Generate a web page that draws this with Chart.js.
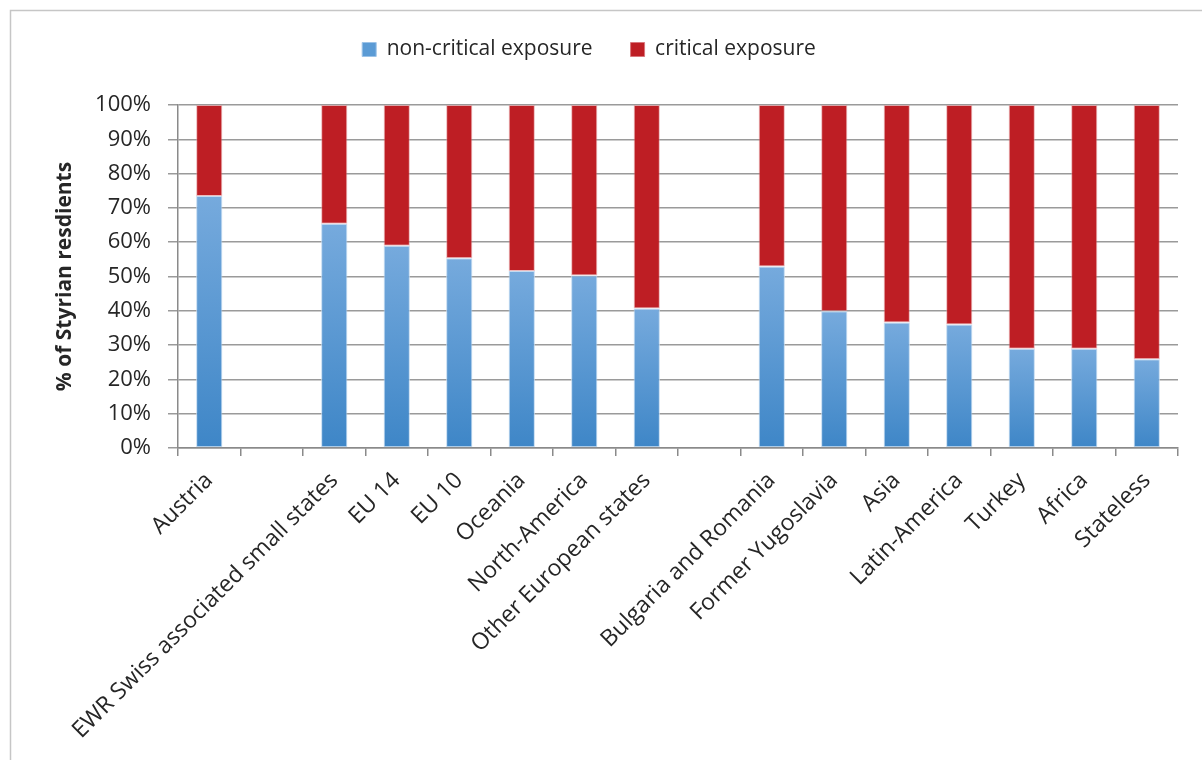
<!DOCTYPE html>
<html>
<head>
<meta charset="utf-8">
<script src="https://cdn.jsdelivr.net/npm/chart.js@4/dist/chart.umd.min.js"></script>
<style>
  html, body { margin: 0; padding: 0; background: #ffffff; }
  #wrap { position: relative; width: 1202px; height: 760px; }
</style>
</head>
<body>
<div id="wrap"><canvas id="chart" width="1202" height="760"></canvas></div>
<script>
// Origin groups (empty strings are spacer slots between groups)
const categories = [
  'Austria', '', 'EWR Swiss associated small states', 'EU 14', 'EU 10',
  'Oceania', 'North-America', 'Other European states', '',
  'Bulgaria and Romania', 'Former Yugoslavia', 'Asia', 'Latin-America',
  'Turkey', 'Africa', 'Stateless'
];

// Share of residents (%) per exposure class
const nonCritical = [73.5, null, 65.4, 59.0, 55.3, 51.6, 50.3, 40.7, null, 52.9, 39.9, 36.6, 36.0, 28.9, 28.9, 25.9];
const critical    = [26.5, null, 34.6, 41.0, 44.7, 48.4, 49.7, 59.3, null, 47.1, 60.1, 63.4, 64.0, 71.1, 71.1, 74.1];

const seriesNames = ['non-critical exposure', 'critical exposure'];
const yTicks = [0, 10, 20, 30, 40, 50, 60, 70, 80, 90, 100];

const FONT = "'Open Sans', 'DejaVu Sans', sans-serif";
const TEXT = '#262626';

// Vertical blue gradient per bar, lighter at the top
function blueFill(ctx) {
  const chart = ctx.chart;
  const v = ctx.parsed ? ctx.parsed.y : null;
  if (!chart.chartArea || v == null || !chart.scales.y) return '#5b9bd5';
  const yTop = chart.scales.y.getPixelForValue(v);
  const yBot = chart.scales.y.getPixelForValue(0);
  const g = chart.ctx.createLinearGradient(0, yTop, 0, yBot);
  g.addColorStop(0, '#76aadd');
  g.addColorStop(1, '#3e86c7');
  return g;
}

// Light frame around the chart object
const framePlugin = {
  id: 'frame',
  beforeDraw(chart) {
    const c = chart.ctx;
    c.save();
    c.strokeStyle = '#c6c6c6';
    c.lineWidth = 1.5;
    c.beginPath();
    c.moveTo(10.5, chart.height);
    c.lineTo(10.5, 10.5);
    c.lineTo(chart.width, 10.5);
    c.stroke();
    c.restore();
  }
};

// Fixed legend band height so the plot starts at a set offset
const legendBand = {
  id: 'legendBand',
  beforeLayout(chart) {
    const lg = chart.legend;
    if (lg && !lg._bandPatched) {
      const fit = lg.fit;
      lg.fit = function () { fit.call(this); this.height = 104; };
      lg._bandPatched = true;
    }
  }
};

new Chart(document.getElementById('chart'), {
  type: 'bar',
  data: {
    labels: categories,
    datasets: [
      {
        label: seriesNames[0],
        data: nonCritical,
        backgroundColor: blueFill,
        borderColor: 'rgba(190, 215, 240, 0.9)',
        borderWidth: 1,
        borderSkipped: false
      },
      {
        label: seriesNames[1],
        data: critical,
        backgroundColor: '#be1e24',
        borderColor: 'rgba(225, 140, 145, 0.6)',
        borderWidth: 1,
        borderSkipped: false
      }
    ]
  },
  options: {
    responsive: false,
    animation: false,
    devicePixelRatio: 1,
    layout: { padding: { top: 1, left: 0, right: 24, bottom: 0 } },
    datasets: { bar: { categoryPercentage: 1.0, barPercentage: 0.42 } },
    plugins: {
      legend: {
        position: 'top',
        align: 'center',
        labels: {
          font: { family: FONT, size: 21 },
          color: TEXT,
          boxWidth: 14,
          boxHeight: 14,
          padding: 38,
          generateLabels(chart) {
            return chart.data.datasets.map((ds, i) => ({
              text: ds.label,
              fillStyle: i === 0 ? '#5b9bd5' : '#be1e24',
              strokeStyle: i === 0 ? '#9cc3e8' : '#d9777c',
              lineWidth: 1,
              hidden: false,
              datasetIndex: i,
              fontColor: TEXT
            }));
          }
        }
      },
      tooltip: { enabled: false }
    },
    scales: {
      x: {
        stacked: true,
        afterFit(scale) { scale.height = 312; },
        grid: {
          display: true,
          offset: true,
          drawOnChartArea: false,
          drawTicks: true,
          tickLength: 8,
          color: '#8a8a8a',
          lineWidth: 1.5
        },
        border: { display: true, color: '#8a8a8a', width: 1.5 },
        ticks: {
          autoSkip: false,
          minRotation: 45,
          maxRotation: 45,
          padding: 11,
          color: TEXT,
          font: { family: FONT, size: 23 }
        }
      },
      y: {
        stacked: true,
        min: 0,
        max: 100,
        afterFit(scale) { scale.width = 178; },
        afterBuildTicks(scale) { scale.ticks = yTicks.map(v => ({ value: v })); },
        grid: {
          color: '#9a9a9a',
          lineWidth: 1.5,
          drawTicks: true,
          tickLength: 10
        },
        border: { display: true, color: '#8a8a8a', width: 1.5 },
        ticks: {
          padding: 17,
          color: TEXT,
          font: { family: FONT, size: 22 },
          callback: v => v + '%'
        },
        title: {
          display: true,
          text: '% of Styrian resdients',
          color: TEXT,
          font: { family: FONT, size: 21, weight: 'bold' },
          padding: { top: 52, bottom: 0 }
        }
      }
    }
  },
  plugins: [framePlugin, legendBand]
});
</script>
</body>
</html>
